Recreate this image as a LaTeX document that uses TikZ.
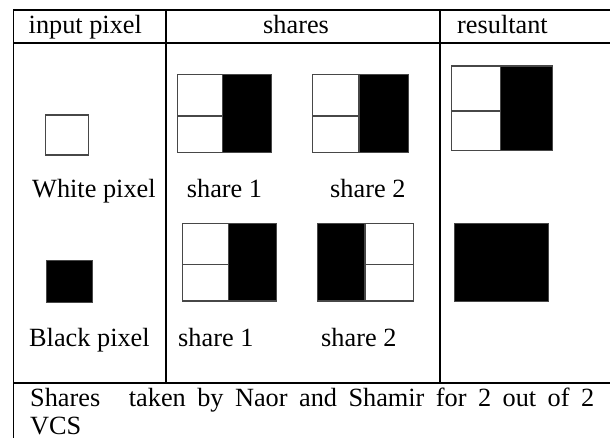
\documentclass[tikz,border=0pt]{standalone}
\usepackage{fontspec}
\setmainfont{Liberation Serif}
\begin{document}
\begin{tikzpicture}[x=1pt,y=-1pt,
  rule/.style={line width=1.7pt,black},
  cell/.style={line width=1.1pt,draw=black!72},
  txt/.style={anchor=base west,inner sep=0pt,font=\fontsize{26.3}{31}\selectfont}]
\useasboundingbox (0,0) rectangle (610,438);
% table rules
\draw[rule] (13.5,10) -- (610,10);
\draw[rule] (13.5,43.3) -- (610,43.3);
\draw[rule] (13.5,382.7) -- (610,382.7);
\draw[rule] (13.5,9.15) -- (13.5,438);
\draw[rule] (166,10) -- (166,382.7);
\draw[rule] (440,10) -- (440,382.7);
% headers
\node[txt] (h1) at (28.5,33.3) {input pixel};
\node[txt] (h2) at (263,33.3) {shares};
\node[txt] (h3) at (457,33.3) {resultant};
% white pixel
\draw[cell,line width=1.3pt] (45.7,115) rectangle (88.3,155);
\node[txt] (wp) at (32,198) {White pixel};
% row 1 share 1
\fill[black] (222.7,74.3) rectangle (271.7,152.7);
\draw[cell] (177.7,74.3) rectangle (271.7,152.7);
\draw[cell] (222.7,74.3) -- (222.7,152.7);
\draw[cell] (177.7,116) -- (222.7,116);
\node[txt] (s11) at (186.7,198) {share 1};
% row 1 share 2
\fill[black] (359,74.3) rectangle (408.3,152.7);
\draw[cell] (312.3,74.3) rectangle (408.3,152.7);
\draw[cell] (359,74.3) -- (359,152.7);
\draw[cell] (312.3,116) -- (359,116);
\node[txt] (s12) at (330,198) {share 2};
% row 1 resultant
\fill[black] (500.7,66) rectangle (552.3,150.7);
\draw[cell] (451.7,66) rectangle (552.3,150.7);
\draw[cell] (500.7,66) -- (500.7,150.7);
\draw[cell] (451.7,111) -- (500.7,111);
% black pixel
\fill[black] (46,260.7) rectangle (92.7,302.7);
\draw[cell,line width=0.6pt] (46,260.7) rectangle (92.7,302.7);
\node[txt] (bp) at (29,346.7) {Black pixel};
% row 2 share 1
\fill[black] (228.3,223.3) rectangle (276.7,301);
\draw[cell] (182.3,223.3) rectangle (276.7,301);
\draw[cell] (228.3,223.3) -- (228.3,301);
\draw[cell] (182.3,264.3) -- (228.3,264.3);
\node[txt] (s21) at (178,346.7) {share 1};
% row 2 share 2
\fill[black] (317.3,223.3) rectangle (365,301);
\draw[cell] (317.3,223.3) rectangle (413.3,301);
\draw[cell] (365,223.3) -- (365,301);
\draw[cell] (365,264.3) -- (413.3,264.3);
\node[txt] (s22) at (321,346.7) {share 2};
% row 2 resultant
\fill[black] (454,223.3) rectangle (548.7,301);
\draw[cell,line width=0.6pt] (454,223.3) rectangle (548.7,301);
% caption
\node[txt] (cap1) at (30,406) {\hbox to 564pt{Shares\hskip 0pt plus 2.5fil taken\hfil by\hfil Naor\hfil and\hfil Shamir\hfil for\hfil 2\hfil out\hfil of\hfil 2}};
\node[txt] (cap2) at (30,434.5) {VCS};
\end{tikzpicture}
\end{document}
